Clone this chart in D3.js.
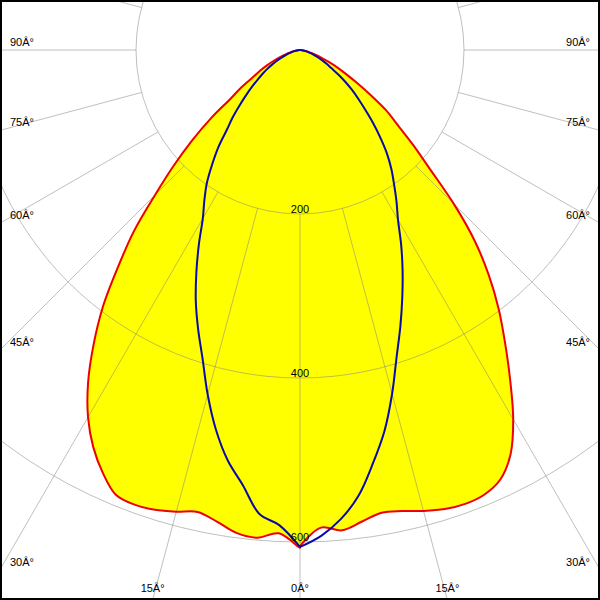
<!DOCTYPE html>
<html><head><meta charset="utf-8">
<script src="https://cdn.jsdelivr.net/npm/d3@7"></script>
<style>body{margin:0;background:#fff}svg{display:block}</style>
</head><body>
<script>
// Gamma angles (degrees from nadir)
const gammas = [0,2.5,5,7.5,10,12.5,15,17.5,20,22.5,25,27.5,30,32.5,35,37.5,40,42.5,45,47.5,50,52.5,55,57.5,60,62.5,65,67.5,70,72.5,75,77.5,80,82.5,85,87.5,90];
// Red plane (C0 right, C180 left), cd
const redRight = [606,583,588,580,573,576,582,587,589,587,578,556,520,477,436,398,358,315,265,215,180,150,128,102,80,63,50,38,28,21,15,10,7,5,3,1,0];
const redLeft  = [607,590,597,594,584,577,583,588,590,587,569,546,517,481,439,395,345,300,250,209,172,137,103,85,66,55,45,35,27,20,15,10,7,5,3,1,0];
// Blue plane (C90 right, C270 left), cd
const blueRight = [606,593,574,548,512,476,434,392,358,326,296,267,239,219,200,183,165,145,126,108,93,80,67,55,44,37,30,24,19,15,11,8,6,4,2,1,0];
const blueLeft  = [606,580,568,535,508,474,435,395,363,332,299,267,237,217,198,176,155,132,116,100,86,74,63,54,46,38,31,25,19,15,11,8,6,4,2,1,0];
// Grid
const ringValues = [200,400,600];
const rayStep = 15;
const labelAngles = [0,15,30,45,60,75,90];

const W = 600, H = 600, cx = 300, cy = 50;
const rScale = d3.scaleLinear().domain([0,600]).range([0,492]);
const rad = d => d * Math.PI / 180;

const svg = d3.select("body").append("svg").attr("width", W).attr("height", H);
svg.append("rect").attr("width", W).attr("height", H).attr("fill", "#fff");
const g = svg.append("g").attr("transform", `translate(${cx},${cy})`);

function polygon(left, right) {
  const pts = [];
  for (let i = gammas.length - 1; i >= 0; i--) pts.push([Math.PI + rad(gammas[i]), rScale(left[i])]);
  for (let i = 0; i < gammas.length; i++) pts.push([Math.PI - rad(gammas[i]), rScale(right[i])]);
  return pts;
}
const line = d3.lineRadial().angle(d => d[0]).radius(d => d[1]).curve(d3.curveCatmullRom.alpha(0.5));

const redPts = polygon(redLeft, redRight);
const bluePts = polygon(blueLeft, blueRight);

// yellow fill
g.append("path").attr("d", line(redPts) + "Z").attr("fill", "#ffff00").attr("stroke", "none");

// grid
const grid = g.append("g").attr("stroke", "#808080").attr("stroke-opacity", 0.5).attr("fill", "none").attr("stroke-width", 1);
ringValues.forEach(v => grid.append("circle").attr("r", rScale(v)));
for (let a = 0; a < 360; a += rayStep) {
  const s = Math.sin(rad(a)), c = Math.cos(rad(a));
  const r0 = rScale(ringValues[0]), r1 = 1000;
  grid.append("line").attr("x1", r0 * s).attr("y1", r0 * c).attr("x2", r1 * s).attr("y2", r1 * c);
}

// curves
g.append("path").attr("d", line(redPts)).attr("fill", "none").attr("stroke", "#ee0000").attr("stroke-width", 2);
g.append("path").attr("d", line(bluePts)).attr("fill", "none").attr("stroke", "#0a0aa8").attr("stroke-width", 2);

// ring labels
g.selectAll("text.ring").data(ringValues).join("text").attr("class", "ring")
  .attr("x", 0).attr("y", v => rScale(v) - 1.5).attr("text-anchor", "middle")
  .attr("font-family", "Liberation Sans, Arial, sans-serif").attr("font-size", 11).attr("fill", "#000")
  .text(v => v);

// angle labels
const lab = svg.append("g").attr("font-family", "Liberation Sans, Arial, sans-serif").attr("font-size", 11).attr("fill", "#000");
labelAngles.forEach(a => {
  [-1, 1].forEach(side => {
    if (a === 0 && side === 1) return;
    const dx = side * Math.sin(rad(a)), dy = Math.cos(rad(a));
    const tSide = Math.abs(dx) > 1e-6 ? (side < 0 ? cx : W - cx) / Math.abs(dx) : Infinity;
    const tBot = dy > 1e-6 ? (H - cy) / dy : Infinity;
    let x, y, anchor;
    if (tSide < tBot) {
      y = cy + tSide * dy - 4;
      x = side < 0 ? 10 : W - 10;
      anchor = side < 0 ? "start" : "end";
    } else {
      x = cx + tBot * dx;
      y = H - 8;
      anchor = "middle";
    }
    lab.append("text").attr("x", x).attr("y", y).attr("text-anchor", anchor).text(a + "Â°");
  });
});

// frame
svg.append("rect").attr("x", 1).attr("y", 1).attr("width", W - 2).attr("height", H - 2)
  .attr("fill", "none").attr("stroke", "#000").attr("stroke-width", 2);
</script>
</body></html>
